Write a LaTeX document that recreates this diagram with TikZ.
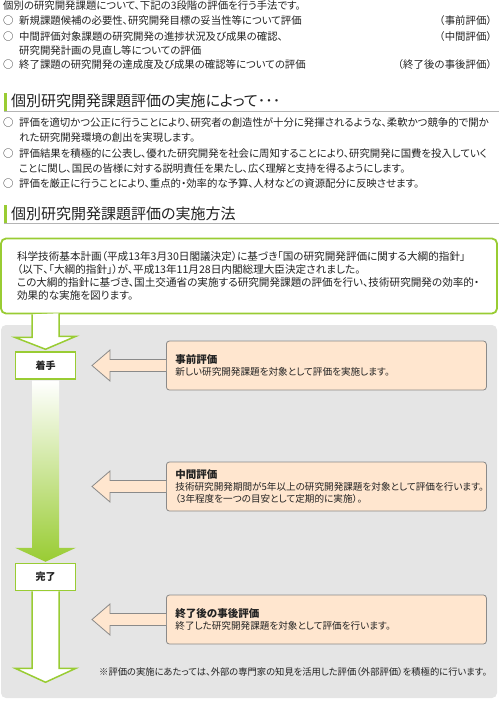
\documentclass[tikz,border=0pt]{standalone}
\usepackage{fontspec}
\setmainfont{Noto Sans CJK JP}[RawFeature=+palt]
\newfontfamily\fullw{Noto Sans CJK JP}
\usepackage{tikz}
\usetikzlibrary{calc}
\definecolor{leafgreen}{HTML}{99CC33}
\definecolor{panelgrey}{HTML}{E5E5E5}
\definecolor{peach}{HTML}{FFE6CF}
\definecolor{edgegrey}{HTML}{8A8A8A}
\definecolor{rulegrey}{HTML}{B4B4B4}
\definecolor{ink}{HTML}{222222}

\begin{document}
\begin{tikzpicture}[x=1pt,y=-1pt,
  txt/.style={anchor=west,inner sep=0pt,text=ink,font=\fontsize{10.4}{13}\selectfont},
  head/.style={anchor=west,inner sep=0pt,text=ink,font=\fontsize{15}{18}\selectfont},
  stage/.style={draw=leafgreen,line width=1.5pt,fill=white,minimum width=60,minimum height=27,
    inner sep=0pt,text=ink,font=\fontsize{10}{12}\selectfont\bfseries},
  stemline/.style={draw=leafgreen,line width=1.5pt,line join=miter},
  evalbox/.style={anchor=west,fill=peach,draw=edgegrey,line width=0.8pt,rounded corners=3pt,
    minimum height=49,text width=302,inner xsep=9,align=left,text=ink,
    font=\fontsize{9.6}{12}\selectfont}]
  \useasboundingbox (0,0) rectangle (499,702);

  % three stages in short
  \node[txt] (intro) at (3,6) {個別の研究開発課題について、下記の3段階の評価を行う手法です。};
  \foreach \yy/\lab [count=\i] in {
      21/{新規課題候補の必要性、研究開発目標の妥当性等について評価},
      37/{中間評価対象課題の研究開発の進捗状況及び成果の確認、},
      65/{終了課題の研究開発の達成度及び成果の確認等についての評価}} {
    \node[txt] (mark\i) at (3,\yy) {○};
    \node[txt] (sum\i) at (19,\yy) {\lab};
  }
  \node[txt] (sumb) at (19,51) {研究開発計画の見直し等についての評価};
  \foreach \yy/\lab [count=\i] in {21/事前評価,37/中間評価,65/終了後の事後評価}
    \node[txt,anchor=east,font=\fontsize{10.4}{13}\fullw] (kind\i) at (497,\yy) {（\lab）};

  % heading 1
  \fill[leafgreen] (4,93) rectangle (7,111);
  \draw[rulegrey,line width=1.5pt] (4,111.5) -- (499,111.5);
  \node[head] (headA) at (11,101) {個別研究開発課題評価の実施によって･･･};
  \foreach \yy/\lab [count=\i] in {
      123/{評価を適切かつ公正に行うことにより、研究者の創造性が十分に発揮されるような、柔軟かつ競争的で開か},
      138/{れた研究開発環境の創出を実現します。},
      154/{評価結果を積極的に公表し、優れた研究開発を社会に周知することにより、研究開発に国費を投入していく},
      169/{ことに関し、国民の皆様に対する説明責任を果たし、広く理解と支持を得るようにします。},
      184/{評価を厳正に行うことにより、重点的・効率的な予算、人材などの資源配分に反映させます。}}
    \node[txt] (aim\i) at (19,\yy) {\lab};
  \foreach \yy [count=\i] in {123,154,184}
    \node[txt] (dot\i) at (3,\yy) {○};

  % heading 2
  \fill[leafgreen] (4,205) rectangle (7,223);
  \draw[rulegrey,line width=1.5pt] (4,223.5) -- (499,223.5);
  \node[head] (headB) at (11,214) {個別研究開発課題評価の実施方法};

  \node[draw=leafgreen,line width=1.8pt,rounded corners=5pt,fill=white,text width=464,
    inner xsep=16,minimum height=75,align=left,text=ink,font=\fontsize{10.6}{13.2}\selectfont]
    (plan) at (249,276) {科学技術基本計画（平成13年3月30日閣議決定）に基づき「国の研究開発評価に関する大綱的指針」\\
    （以下、「大綱的指針」）が、平成13年11月28日内閣総理大臣決定されました。\\
    この大綱的指針に基づき、国土交通省の実施する研究開発課題の評価を行い、技術研究開発の効率的・\\
    効果的な実施を図ります。};

  \fill[panelgrey,rounded corners=5pt] (1,325) rectangle (497,698);

  \node[stage] (start) at (45.5,365.5) {着手};
  \node[stage] (done) at (45.5,577) {完了};

  \draw[stemline,fill=white] (plan.south -| start.center) ++(-13.5,0) -- ++(0,23) -- ++(-17,0)
    -- ($(start.north)+(0,-2)$) -- ++(30.5,-13) -- ++(-17,0) -- ++(0,-23);
  \shade[top color=white,bottom color=leafgreen]
    ($(start.south)+(-13.5,0.8)$) -- ($(done.north)+(-13.5,-15)$) -- ($(done.north)+(-30.5,-15)$)
    -- ($(done.north)+(0,-1)$) -- ($(done.north)+(30.5,-15)$) -- ($(done.north)+(13.5,-15)$)
    -- ($(start.south)+(13.5,0.8)$) -- cycle;
  \draw[stemline,fill=white] ($(done.south)+(-13.5,0)$) -- ++(0,77) -- ++(-17,0)
    -- ++(30.5,14) coordinate (finish) -- ++(30.5,-14) -- ++(-17,0) -- ++(0,-77);

  \foreach \nm/\yy/\ttl/\txt in {
      pre/365.5/事前評価/{新しい研究開発課題を対象として評価を実施します。},
      mid/486.5/中間評価/{技術研究開発期間が5年以上の研究開発課題を対象として評価を行います。\\（3年程度を一つの目安として定期的に実施）。},
      post/619.5/終了後の事後評価/{終了した研究開発課題を対象として評価を行います。}} {
    \node[evalbox] (\nm) at (166,\yy) {{\fontsize{10.5}{13}\selectfont\bfseries \ttl}\\\txt};
    \draw[edgegrey,line width=0.8pt,fill=peach] ($(\nm.west)+(0,-6)$) -- ++(-56,0) -- ++(0,-9.5)
      -- ++(-18,15.5) -- ++(18,15.5) -- ++(0,-9.5) -- ++(56,0);
  }

  \node[txt,font=\fontsize{9.3}{12}\selectfont] (note) at (99,672)
    {※評価の実施にあたっては、外部の専門家の知見を活用した評価（外部評価）を積極的に行います。};
\end{tikzpicture}
\end{document}
